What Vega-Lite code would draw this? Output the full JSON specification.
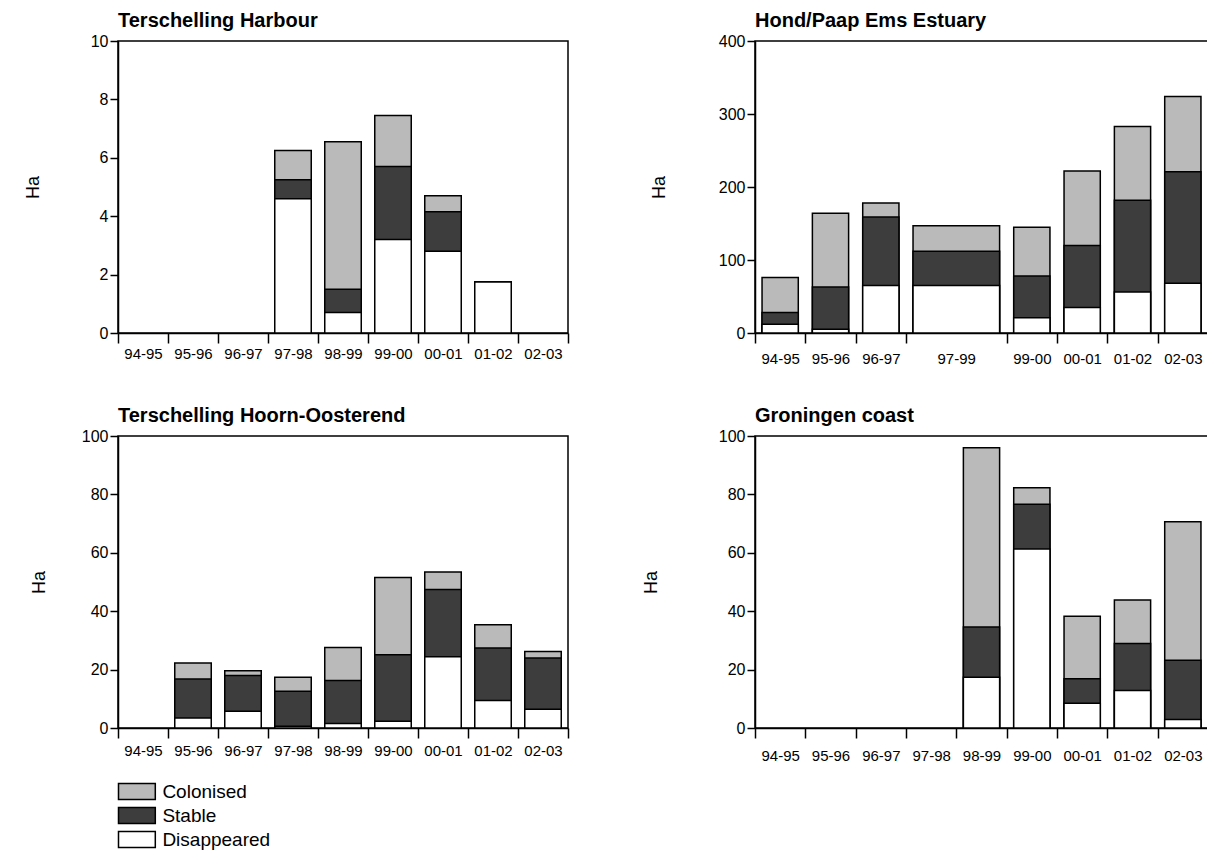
{
  "$schema": "https://vega.github.io/schema/vega-lite/v6.json",
  "padding": {"left": 23, "top": 10, "right": 0, "bottom": 0},
  "datasets": {
    "harbour": [
      {"period": "97-98", "disappeared_top": 4.6, "stable_top": 5.25, "colonised_top": 6.25},
      {"period": "98-99", "disappeared_top": 0.7, "stable_top": 1.5, "colonised_top": 6.55},
      {"period": "99-00", "disappeared_top": 3.2, "stable_top": 5.7, "colonised_top": 7.45},
      {"period": "00-01", "disappeared_top": 2.8, "stable_top": 4.15, "colonised_top": 4.7},
      {"period": "01-02", "disappeared_top": 1.75, "stable_top": 1.75, "colonised_top": 1.75}
    ],
    "ems": [
      {"period": "94-95", "disappeared_top": 12, "stable_top": 28, "colonised_top": 76},
      {"period": "95-96", "disappeared_top": 5, "stable_top": 63, "colonised_top": 164},
      {"period": "96-97", "disappeared_top": 65, "stable_top": 159, "colonised_top": 178},
      {"period": "97-99", "disappeared_top": 65, "stable_top": 112, "colonised_top": 147},
      {"period": "99-00", "disappeared_top": 21, "stable_top": 78, "colonised_top": 145},
      {"period": "00-01", "disappeared_top": 35, "stable_top": 120, "colonised_top": 222},
      {"period": "01-02", "disappeared_top": 56, "stable_top": 182, "colonised_top": 283},
      {"period": "02-03", "disappeared_top": 68, "stable_top": 221, "colonised_top": 324}
    ],
    "hoorn": [
      {"period": "95-96", "disappeared_top": 3.4, "stable_top": 16.8, "colonised_top": 22.3},
      {"period": "96-97", "disappeared_top": 5.7, "stable_top": 18, "colonised_top": 19.6},
      {"period": "97-98", "disappeared_top": 0.6, "stable_top": 12.6, "colonised_top": 17.4},
      {"period": "98-99", "disappeared_top": 1.5, "stable_top": 16.3, "colonised_top": 27.6},
      {"period": "99-00", "disappeared_top": 2.3, "stable_top": 25.1, "colonised_top": 51.5},
      {"period": "00-01", "disappeared_top": 24.4, "stable_top": 47.4, "colonised_top": 53.4},
      {"period": "01-02", "disappeared_top": 9.4, "stable_top": 27.4, "colonised_top": 35.4},
      {"period": "02-03", "disappeared_top": 6.4, "stable_top": 24, "colonised_top": 26.2}
    ],
    "groningen": [
      {"period": "98-99", "disappeared_top": 17.4, "stable_top": 34.6, "colonised_top": 96},
      {"period": "99-00", "disappeared_top": 61.3, "stable_top": 76.6, "colonised_top": 82.3},
      {"period": "00-01", "disappeared_top": 8.5, "stable_top": 16.9, "colonised_top": 38.3},
      {"period": "01-02", "disappeared_top": 12.8, "stable_top": 28.9, "colonised_top": 43.8},
      {"period": "02-03", "disappeared_top": 2.9, "stable_top": 23.2, "colonised_top": 70.6}
    ]
  },
  "columns": 2,
  "spacing": {"column": 71, "row": 38},
  "concat": [
    {
      "width": 450, "height": 292,
      "title": {"text": "Terschelling Harbour"},
      "data": {"name": "harbour"},
      "encoding": {
        "x": {"field": "period", "type": "nominal",
          "scale": {"domain": ["94-95","95-96","96-97","97-98","98-99","99-00","00-01","01-02","02-03"], "paddingInner": 0, "paddingOuter": 0},
          "axis": {"title": null, "labelPadding": 3}}
      },
      "layer": [
        {"mark": {"type": "bar", "width": {"band": 0.73}, "stroke": "black", "strokeWidth": 1.5},
         "encoding": {
           "y": {"field": "colonised_top", "type": "quantitative", "scale": {"domain": [0, 10], "nice": false},
             "axis": {"title": "Ha", "values": [0, 2, 4, 6, 8, 10], "titlePadding": 48}},
           "color": {"datum": "Colonised", "type": "nominal", "scale": {"domain": ["Colonised", "Stable", "Disappeared"], "range": ["#bababa", "#3d3d3d", "#ffffff"]}, "legend": {"title": null}}}},
        {"mark": {"type": "bar", "width": {"band": 0.73}, "stroke": "black", "strokeWidth": 1.5},
         "encoding": {
           "y": {"field": "stable_top", "type": "quantitative",
             "axis": {"title": "Ha", "values": [0, 2, 4, 6, 8, 10], "titlePadding": 48}},
           "color": {"datum": "Stable", "type": "nominal", "legend": {"title": null}}}},
        {"mark": {"type": "bar", "width": {"band": 0.73}, "stroke": "black", "strokeWidth": 1.5},
         "encoding": {
           "y": {"field": "disappeared_top", "type": "quantitative",
             "axis": {"title": "Ha", "values": [0, 2, 4, 6, 8, 10], "titlePadding": 48}},
           "color": {"datum": "Disappeared", "type": "nominal", "legend": {"title": null}}}}
      ]
    },
    {
      "width": 453, "height": 292,
      "title": {"text": "Hond/Paap Ems Estuary"},
      "data": {"name": "ems"},
      "encoding": {
        "x": {"field": "period", "type": "nominal",
          "scale": {"domain": ["94-95","95-96","96-97","97-99","98-99","99-00","00-01","01-02","02-03"], "paddingInner": 0, "paddingOuter": 0},
          "axis": {"title": null, "labelPadding": 8,
            "labelExpr": "datum.value == '98-99' ? '' : datum.label",
            "labelOffset": {"condition": {"test": "datum.value == '97-99'", "value": 25}, "value": 0},
            "tickOpacity": {"condition": {"test": "datum.value == '97-99'", "value": 0}, "value": 1}}}
      },
      "layer": [
        {"transform": [{"filter": "datum.period != '97-99'"}],
         "mark": {"type": "bar", "width": {"band": 0.72}, "stroke": "black", "strokeWidth": 1.5},
         "encoding": {
           "y": {"field": "colonised_top", "type": "quantitative", "scale": {"domain": [0, 400], "nice": false},
             "axis": {"title": "Ha", "values": [0, 100, 200, 300, 400], "titlePadding": 50}},
           "color": {"datum": "Colonised", "type": "nominal", "legend": {"title": null}}}},
        {"transform": [{"filter": "datum.period != '97-99'"}],
         "mark": {"type": "bar", "width": {"band": 0.72}, "stroke": "black", "strokeWidth": 1.5},
         "encoding": {
           "y": {"field": "stable_top", "type": "quantitative",
             "axis": {"title": "Ha", "values": [0, 100, 200, 300, 400], "titlePadding": 50}},
           "color": {"datum": "Stable", "type": "nominal", "legend": {"title": null}}}},
        {"transform": [{"filter": "datum.period != '97-99'"}],
         "mark": {"type": "bar", "width": {"band": 0.72}, "stroke": "black", "strokeWidth": 1.5},
         "encoding": {
           "y": {"field": "disappeared_top", "type": "quantitative",
             "axis": {"title": "Ha", "values": [0, 100, 200, 300, 400], "titlePadding": 50}},
           "color": {"datum": "Disappeared", "type": "nominal", "legend": {"title": null}}}},
        {"transform": [{"filter": "datum.period == '97-99'"}],
         "mark": {"type": "bar", "width": {"band": 1.72}, "xOffset": 25.15, "stroke": "black", "strokeWidth": 1.5},
         "encoding": {
           "y": {"field": "colonised_top", "type": "quantitative",
             "axis": {"title": "Ha", "values": [0, 100, 200, 300, 400], "titlePadding": 50}},
           "color": {"datum": "Colonised", "type": "nominal", "legend": {"title": null}}}},
        {"transform": [{"filter": "datum.period == '97-99'"}],
         "mark": {"type": "bar", "width": {"band": 1.72}, "xOffset": 25.15, "stroke": "black", "strokeWidth": 1.5},
         "encoding": {
           "y": {"field": "stable_top", "type": "quantitative",
             "axis": {"title": "Ha", "values": [0, 100, 200, 300, 400], "titlePadding": 50}},
           "color": {"datum": "Stable", "type": "nominal", "legend": {"title": null}}}},
        {"transform": [{"filter": "datum.period == '97-99'"}],
         "mark": {"type": "bar", "width": {"band": 1.72}, "xOffset": 25.15, "stroke": "black", "strokeWidth": 1.5},
         "encoding": {
           "y": {"field": "disappeared_top", "type": "quantitative",
             "axis": {"title": "Ha", "values": [0, 100, 200, 300, 400], "titlePadding": 50}},
           "color": {"datum": "Disappeared", "type": "nominal", "legend": {"title": null}}}}
      ]
    },
    {
      "width": 450, "height": 292,
      "title": {"text": "Terschelling Hoorn-Oosterend"},
      "data": {"name": "hoorn"},
      "encoding": {
        "x": {"field": "period", "type": "nominal",
          "scale": {"domain": ["94-95","95-96","96-97","97-98","98-99","99-00","00-01","01-02","02-03"], "paddingInner": 0, "paddingOuter": 0},
          "axis": {"title": null, "labelPadding": 5}}
      },
      "layer": [
        {"mark": {"type": "bar", "width": {"band": 0.73}, "stroke": "black", "strokeWidth": 1.5},
         "encoding": {
           "y": {"field": "colonised_top", "type": "quantitative", "scale": {"domain": [0, 100], "nice": false},
             "axis": {"title": "Ha", "values": [0, 20, 40, 60, 80, 100], "titlePadding": 33}},
           "color": {"datum": "Colonised", "type": "nominal", "legend": {"title": null}}}},
        {"mark": {"type": "bar", "width": {"band": 0.73}, "stroke": "black", "strokeWidth": 1.5},
         "encoding": {
           "y": {"field": "stable_top", "type": "quantitative",
             "axis": {"title": "Ha", "values": [0, 20, 40, 60, 80, 100], "titlePadding": 33}},
           "color": {"datum": "Stable", "type": "nominal", "legend": {"title": null}}}},
        {"mark": {"type": "bar", "width": {"band": 0.73}, "stroke": "black", "strokeWidth": 1.5},
         "encoding": {
           "y": {"field": "disappeared_top", "type": "quantitative",
             "axis": {"title": "Ha", "values": [0, 20, 40, 60, 80, 100], "titlePadding": 33}},
           "color": {"datum": "Disappeared", "type": "nominal", "legend": {"title": null}}}}
      ]
    },
    {
      "width": 453, "height": 292,
      "title": {"text": "Groningen coast"},
      "data": {"name": "groningen"},
      "encoding": {
        "x": {"field": "period", "type": "nominal",
          "scale": {"domain": ["94-95","95-96","96-97","97-98","98-99","99-00","00-01","01-02","02-03"], "paddingInner": 0, "paddingOuter": 0},
          "axis": {"title": null, "labelPadding": 10}}
      },
      "layer": [
        {"mark": {"type": "bar", "width": {"band": 0.72}, "stroke": "black", "strokeWidth": 1.5},
         "encoding": {
           "y": {"field": "colonised_top", "type": "quantitative", "scale": {"domain": [0, 100], "nice": false},
             "axis": {"title": "Ha", "values": [0, 20, 40, 60, 80, 100], "titlePadding": 58}},
           "color": {"datum": "Colonised", "type": "nominal", "legend": {"title": null}}}},
        {"mark": {"type": "bar", "width": {"band": 0.72}, "stroke": "black", "strokeWidth": 1.5},
         "encoding": {
           "y": {"field": "stable_top", "type": "quantitative",
             "axis": {"title": "Ha", "values": [0, 20, 40, 60, 80, 100], "titlePadding": 58}},
           "color": {"datum": "Stable", "type": "nominal", "legend": {"title": null}}}},
        {"mark": {"type": "bar", "width": {"band": 0.72}, "stroke": "black", "strokeWidth": 1.5},
         "encoding": {
           "y": {"field": "disappeared_top", "type": "quantitative",
             "axis": {"title": "Ha", "values": [0, 20, 40, 60, 80, 100], "titlePadding": 58}},
           "color": {"datum": "Disappeared", "type": "nominal", "legend": {"title": null}}}}
      ]
    }
  ],
  "config": {
    "font": "Liberation Sans",
    "background": "white",
    "view": {"stroke": "black", "strokeWidth": 1.5},
    "axis": {"domainColor": "black", "domainWidth": 1.5, "tickColor": "black", "tickWidth": 1.5,
      "labelColor": "black", "titleColor": "black", "grid": false, "titleFontWeight": "normal",
      "labelFont": "Liberation Sans", "titleFont": "Liberation Sans"},
    "axisX": {"labelFontSize": 15, "labelAngle": 0, "tickSize": 10, "tickBand": "extent"},
    "axisY": {"labelFontSize": 16, "tickSize": 8, "labelPadding": 2, "titleFontSize": 18},
    "title": {"fontSize": 20, "fontWeight": "bold", "anchor": "start", "offset": 2, "color": "black", "frame": "group"},
    "legend": {"orient": "none", "legendX": 9.4, "legendY": 741, "labelFontSize": 19, "labelColor": "black",
      "symbolType": "M-2.3,-1H2.3V1H-2.3Z", "symbolSize": 256, "symbolStrokeColor": "black", "symbolStrokeWidth": 1.5,
      "symbolOpacity": 1, "labelOffset": 16, "rowPadding": 1, "padding": 0}
  }
}
